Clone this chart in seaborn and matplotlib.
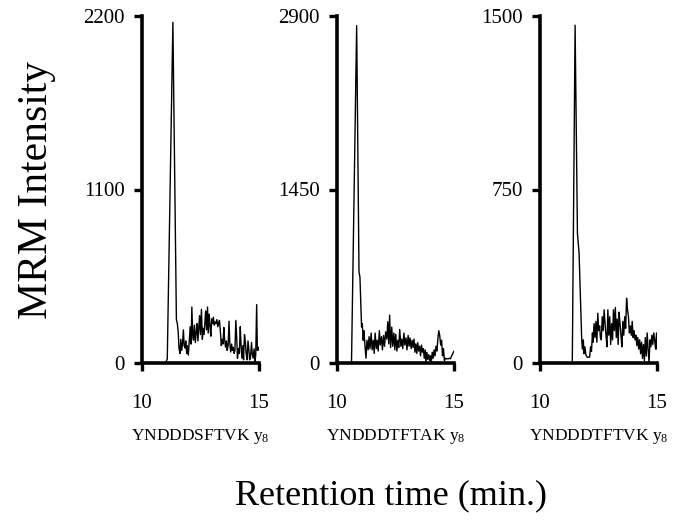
import matplotlib
matplotlib.use("Agg")
import matplotlib.pyplot as plt
import seaborn as sns
import pandas as pd

# MRM chromatograms: retention time (min) and intensity for three y8 transitions
peptides = ["YNDDDSFTVK", "YNDDDTFTAK", "YNDDDTFTVK"]
y_max = [2200, 2900, 1500]
x_ticks = [10, 15]

time_1 = [11.00, 11.08, 11.32, 11.47, 11.51, 11.55, 11.58, 11.62, 11.66, 11.69, 11.73, 11.77,
          11.80, 11.84, 11.87, 11.91, 11.94, 11.98, 12.02, 12.06, 12.10, 12.13, 12.17, 12.20,
          12.24, 12.28, 12.32, 12.35, 12.39, 12.43, 12.46, 12.50, 12.54, 12.58, 12.61, 12.65,
          12.69, 12.72, 12.76, 12.80, 12.83, 12.87, 12.91, 12.94, 12.98, 13.02, 13.05, 13.09,
          13.13, 13.16, 13.20, 13.24, 13.28, 13.31, 13.35, 13.39, 13.42, 13.46, 13.50, 13.53,
          13.57, 13.61, 13.64, 13.68, 13.72, 13.75, 13.79, 13.83, 13.86, 13.90, 13.94, 13.97,
          14.01, 14.05, 14.08, 14.12, 14.16, 14.20, 14.23, 14.27, 14.31, 14.34, 14.38, 14.42,
          14.45, 14.49, 14.53, 14.57, 14.60, 14.64, 14.68, 14.71, 14.75, 14.79, 14.83, 14.86,
          14.90, 14.93, 14.97, 15.00]
intensity_1 = [0, 25, 2160, 275, 250, 190, 95, 60, 150, 80, 120, 210,
               110, 95, 140, 60, 110, 50, 140, 230, 120, 355, 170, 145,
               240, 130, 200, 250, 140, 230, 300, 180, 340, 150, 220, 180,
               260, 330, 210, 355, 190, 310, 230, 170, 280, 250, 290, 240,
               260, 250, 275, 230, 255, 270, 200, 110, 150, 120, 225, 150,
               100, 140, 80, 110, 265, 130, 70, 120, 80, 100, 60, 80,
               270, 150, 30, 90, 60, 230, 120, 30, 110, 20, 180, 130,
               60, 20, 140, 80, 20, 40, 130, 60, 30, 90, 10, 50,
               370, 80, 100, 80]

time_2 = [10.55, 10.62, 10.84, 10.94, 10.98, 11.05, 11.08, 11.12, 11.15, 11.20, 11.24, 11.28,
          11.33, 11.37, 11.41, 11.46, 11.50, 11.55, 11.59, 11.63, 11.68, 11.72, 11.76, 11.81,
          11.85, 11.90, 11.94, 11.99, 12.03, 12.08, 12.13, 12.17, 12.21, 12.25, 12.29, 12.34,
          12.38, 12.43, 12.47, 12.51, 12.56, 12.60, 12.64, 12.68, 12.73, 12.77, 12.81, 12.86,
          12.90, 12.95, 12.99, 13.04, 13.08, 13.12, 13.17, 13.21, 13.25, 13.29, 13.33, 13.37,
          13.41, 13.45, 13.49, 13.53, 13.57, 13.61, 13.65, 13.69, 13.73, 13.77, 13.80, 13.84,
          13.88, 13.92, 13.96, 14.00, 14.03, 14.07, 14.11, 14.15, 14.19, 14.23, 14.27, 14.31,
          14.35, 14.39, 14.43, 14.47, 14.51, 14.55, 14.59, 14.63, 14.67, 14.71, 14.76, 14.80,
          14.85, 14.90, 14.95, 15.00]
intensity_2 = [0, 10, 2820, 760, 720, 300, 330, 190, 270, 130, 40, 190,
               110, 220, 120, 250, 110, 190, 80, 250, 120, 190, 100, 270,
               150, 220, 110, 230, 140, 260, 200, 345, 160, 400, 130, 300,
               140, 250, 110, 240, 100, 190, 130, 280, 140, 200, 120, 250,
               150, 210, 110, 230, 140, 210, 120, 190, 130, 200, 90, 160,
               80, 170, 100, 140, 60, 150, 90, 120, 40, 110, 5, 90,
               30, 70, 20, 60, 5, 90, 40, 110, 60, 140, 100, 200,
               270, 230, 150, 190, 60, 120, 20, 40, 35, 35, 35, 40,
               35, 60, 80, 100]

time_3 = [11.38, 11.50, 11.60, 11.67, 11.78, 11.81, 11.85, 11.88, 11.92, 11.96, 12.02, 12.12,
          12.16, 12.20, 12.24, 12.27, 12.31, 12.35, 12.39, 12.43, 12.47, 12.51, 12.55, 12.58,
          12.62, 12.66, 12.70, 12.74, 12.78, 12.82, 12.86, 12.90, 12.94, 12.98, 13.02, 13.06,
          13.10, 13.14, 13.18, 13.22, 13.26, 13.30, 13.34, 13.38, 13.42, 13.46, 13.50, 13.54,
          13.58, 13.62, 13.66, 13.70, 13.74, 13.78, 13.82, 13.86, 13.90, 13.94, 13.98, 14.02,
          14.06, 14.10, 14.14, 14.18, 14.22, 14.26, 14.30, 14.34, 14.38, 14.42, 14.46, 14.50,
          14.54, 14.58, 14.62, 14.66, 14.70, 14.74, 14.78, 14.82, 14.86, 14.90, 14.94, 14.98,
          15.00]
intensity_3 = [0, 1460, 560, 475, 110, 60, 100, 40, 70, 35, 25, 25,
               70, 50, 130, 90, 170, 110, 180, 90, 215, 140, 160, 110,
               100, 200, 140, 230, 170, 120, 70, 230, 120, 200, 80, 170,
               100, 230, 140, 240, 110, 190, 80, 220, 170, 120, 70, 180,
               120, 200, 150, 280, 230, 200, 130, 160, 120, 180, 110, 140,
               100, 120, 75, 110, 60, 100, 40, 90, 20, 80, 10, 110,
               30, 130, 60, 0, 100, 70, 120, 80, 130, 100, 60, 130,
               60]

times = [time_1, time_2, time_3]
intensities = [intensity_1, intensity_2, intensity_3]

sns.set_theme(style="ticks")
plt.rcParams["font.family"] = ["Liberation Serif", "DejaVu Serif"]
plt.rcParams["mathtext.fontset"] = "custom"
plt.rcParams["mathtext.rm"] = "Liberation Serif"
plt.rcParams["mathtext.it"] = "Liberation Serif:italic"

W, H = 678, 526
fig = plt.figure(figsize=(W / 100, H / 100), dpi=100)
fig.patch.set_facecolor("white")

lefts = [142, 337, 540]
ax_w, ax_top, ax_bot = 117, 16, 363

for k in range(3):
    ax = fig.add_axes([lefts[k] / W, 1 - ax_bot / H, ax_w / W, (ax_bot - ax_top) / H])
    df = pd.DataFrame({"time": times[k], "intensity": intensities[k]})
    sns.lineplot(data=df, x="time", y="intensity", ax=ax, color="black",
                 linewidth=1.0, sort=False, estimator=None)
    ax.set_xlim(10, 15)
    ax.set_ylim(0, y_max[k])
    ax.set_xticks(x_ticks)
    ax.set_xticklabels([str(v) for v in x_ticks])
    yt = [0, y_max[k] / 2, y_max[k]]
    ax.set_yticks(yt)
    ax.set_yticklabels([f"{v:g}" for v in yt])
    ax.set_xlabel("")
    ax.set_ylabel("")
    ax.patch.set_alpha(0)
    sns.despine(ax=ax)
    for side in ("left", "bottom"):
        ax.spines[side].set_linewidth(2.6)
        ax.spines[side].set_color("black")
    ax.tick_params(axis="both", direction="out", length=5.5, width=2.4,
                   labelsize=15, colors="black")
    ax.tick_params(axis="y", pad=7)
    ax.tick_params(axis="x", pad=17)
    cx = (lefts[k] + ax_w / 2) / W
    fig.text(cx, 1 - 437 / H, peptides[k] + r" $\mathregular{y_8}$",
             ha="center", va="center", fontsize=12.5, color="black")

fig.text(37 / W, 1 - 190 / H, "MRM Intensity", rotation=90,
         ha="center", va="center", fontsize=30, color="black")
fig.text(391 / W, 1 - 496 / H, "Retention time (min.)",
         ha="center", va="center", fontsize=26, color="black")

fig.savefig("out.png", dpi=100)
